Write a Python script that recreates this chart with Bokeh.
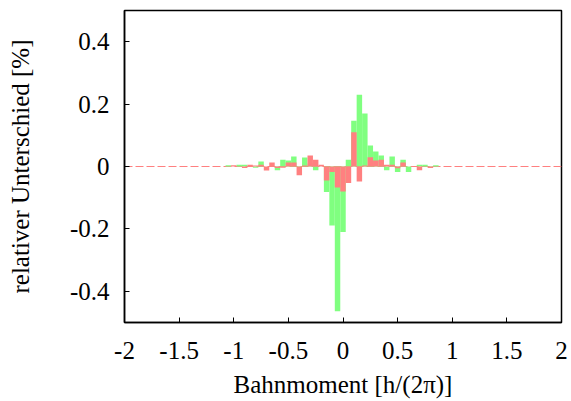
from bokeh.plotting import figure
from bokeh.models import Range1d, FixedTicker, ColumnDataSource
from bokeh.embed import file_html
from bokeh.resources import INLINE

# bin centres (h/(2pi)), width 0.05
x_bins = [-1.05, -1.00, -0.95, -0.90, -0.85, -0.80, -0.75, -0.70, -0.65, -0.60,
          -0.55, -0.50, -0.45, -0.40, -0.35, -0.30, -0.25, -0.20, -0.15, -0.10,
          -0.05, 0.00, 0.05, 0.10, 0.15, 0.20, 0.25, 0.30, 0.35, 0.40,
          0.45, 0.50, 0.55, 0.60, 0.65, 0.70, 0.75, 0.80, 0.85]
green_vals = [0.004, 0.000, 0.006, 0.006, 0.000, -0.004, 0.016, 0.000, 0.000, -0.012,
              0.022, 0.019, 0.032, -0.002, 0.029, 0.010, -0.012, 0.000, -0.082, -0.189,
              -0.464, -0.210, 0.022, 0.147, 0.230, 0.170, 0.067, 0.048, 0.035, -0.012,
              0.032, -0.018, 0.022, -0.018, 0.000, 0.006, 0.006, 0.002, 0.004]
red_vals = [0.000, 0.004, 0.000, -0.005, 0.006, 0.003, 0.006, -0.013, 0.013, -0.005,
            -0.004, 0.013, 0.013, -0.028, 0.003, 0.035, 0.022, 0.006, -0.045, -0.018,
            -0.067, -0.080, -0.053, 0.110, -0.048, 0.003, 0.030, 0.019, 0.022, 0.006,
            0.006, -0.006, 0.013, 0.000, 0.000, -0.012, 0.000, -0.005, 0.000]
zero_x = [-2, 2]
zero_y = [0, 0]

x_ticks = [-2, -1.5, -1, -0.5, 0, 0.5, 1, 1.5, 2]
x_tick_labels = ["-2", "-1.5", "-1", "-0.5", "0", "0.5", "1", "1.5", "2"]
y_ticks = [-0.4, -0.2, 0, 0.2, 0.4]
y_tick_labels = ["-0.4", "-0.2", "0", "0.2", "0.4"]

x_label = "Bahnmoment [h/(2\u03c0)]"
y_label = "relativer Unterschied [%]"

FONT = "Liberation Serif"

p = figure(width=571, height=401, output_backend="svg", toolbar_location=None,
           x_range=Range1d(-2, 2), y_range=Range1d(-0.5, 0.5),
           min_border_left=124, min_border_right=10, min_border_top=10,
           min_border_bottom=79)

src = ColumnDataSource(dict(x=x_bins, g=green_vals, r=red_vals))

p.line(zero_x, zero_y, line_color="#ff8080", line_width=1.2, line_dash="8 3")
p.vbar(x="x", top="g", bottom=0, width=0.05, source=src,
       fill_color="#80ff80", line_color=None)
p.vbar(x="x", top="r", bottom=0, width=0.05, source=src,
       fill_color="#ff8080", line_color=None)

p.xgrid.visible = False
p.ygrid.visible = False
p.outline_line_color = "black"
p.outline_line_width = 1.5
p.background_fill_color = "white"
p.border_fill_color = "white"

p.xaxis.ticker = FixedTicker(ticks=x_ticks)
p.xaxis.major_label_overrides = {t: l for t, l in zip(x_ticks, x_tick_labels)}
p.yaxis.ticker = FixedTicker(ticks=y_ticks)
p.yaxis.major_label_overrides = {t: l for t, l in zip(y_ticks, y_tick_labels)}

for ax in (p.xaxis, p.yaxis):
    ax.axis_line_color = "black"
    ax.axis_line_width = 1.5
    ax.major_tick_in = 5
    ax.major_tick_out = 0
    ax.major_tick_line_color = "black"
    ax.major_tick_line_width = 1
    ax.minor_tick_line_color = None
    ax.major_label_text_font = FONT
    ax.major_label_text_font_size = "25px"
    ax.major_label_text_color = "black"
    ax.axis_label_text_font = FONT
    ax.axis_label_text_font_size = "25px"
    ax.axis_label_text_font_style = "normal"
    ax.axis_label_text_color = "black"

p.xaxis.axis_label = x_label
p.yaxis.axis_label = y_label
p.xaxis.major_label_standoff = 19
p.yaxis.major_label_standoff = 15
p.xaxis.axis_label_standoff = 9
p.yaxis.axis_label_standoff = 33

open("out.html", "w").write(file_html(p, INLINE))
